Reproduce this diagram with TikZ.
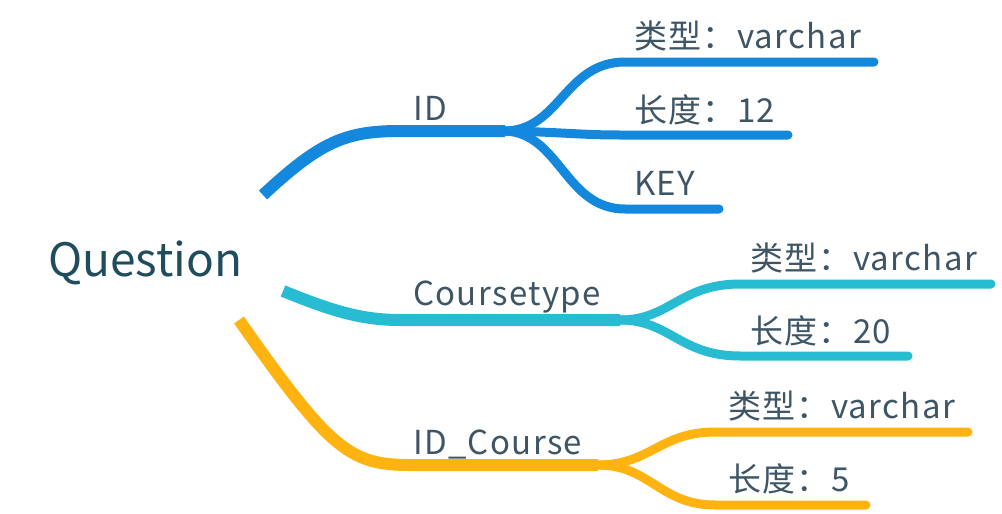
\documentclass[tikz,border=0pt]{standalone}
\usepackage{fontspec}
\setmainfont{Noto Sans CJK SC}
\newfontfamily\lblfont{Noto Sans CJK SC}[LetterSpace=4]
\definecolor{textgray}{HTML}{3E5566}
\definecolor{rootteal}{HTML}{1F4D5E}
\definecolor{idblue}{HTML}{1388DD}
\definecolor{typecyan}{HTML}{27BCD2}
\definecolor{courseyellow}{HTML}{FFB310}
\tikzset{
	trunk/.style={line width=12pt, line cap=butt},
	twig/.style={line width=9pt, line cap=round},
	lbl/.style={anchor=base west, inner sep=0pt, text=textgray, font=\lblfont\fontsize{33}{33}\selectfont}
}
\begin{document}
\begin{tikzpicture}[x=1pt, y=-1pt]
	\useasboundingbox (0,0) rectangle (1002,514);
	% Wurzel
	\node[
		anchor=base west,
		inner sep=0pt,
		text=rootteal,
		font=\fontsize{46}{46}\selectfont
	] (question) at (48,276) {Question};
	% Knoten
	\node[lbl] (id) at (413,120) {ID};
	\node[lbl] (coursetype) at (413,305) {Coursetype};
	\node[lbl] (idcourse) at (413,454) {ID\_Course};
	\node[lbl] (idtype) at (634,48) {类型：varchar};
	\node[lbl] (idlen) at (634,122) {长度：12};
	\node[lbl] (idkey) at (634,195) {KEY};
	\node[lbl] (cttype) at (750,270) {类型：varchar};
	\node[lbl] (ctlen) at (750,343) {长度：20};
	\node[lbl] (ictype) at (728,418) {类型：varchar};
	\node[lbl] (iclen) at (728,491) {长度：5};
	% Ansatzpunkte
	\coordinate (rootb) at (263,195);
	\coordinate (rootc) at (283,291);
	\coordinate (rooty) at (239,320);
	\coordinate (idend) at (505,131);
	\coordinate (ctend) at (620,320);
	\coordinate (icend) at (598,465);
	% Enden
	\coordinate (idtypeend) at (874,62);
	\coordinate (idlenend) at (788,135);
	\coordinate (idkeyend) at (719,209);
	\coordinate (cttypeend) at (991,284);
	\coordinate (ctlenend) at (908,356);
	\coordinate (ictypeend) at (968,432);
	\coordinate (iclenend) at (866,505);
	% Zweig ID
	\draw[
		trunk,
		idblue
	] (rootb) .. controls (320,142) and (345,131) .. (400,131) -- (idend);
	\draw[
		twig,
		idblue
	] (idend) .. controls (560,130) and (565,62) .. (625,62) -- (idtypeend);
	\draw[
		twig,
		idblue
	] (idend) .. controls (560,132) and (580,135) .. (620,135) -- (idlenend);
	\draw[
		twig,
		idblue
	] (idend) .. controls (560,133) and (565,209) .. (625,209) -- (idkeyend);
	% Zweig Coursetype
	\draw[
		trunk,
		typecyan
	] (rootc) .. controls (330,310) and (360,320) .. (400,320) -- (ctend);
	\draw[
		twig,
		typecyan
	] (ctend) .. controls (670,320) and (680,284) .. (740,284) -- (cttypeend);
	\draw[
		twig,
		typecyan
	] (ctend) .. controls (670,320) and (680,356) .. (740,356) -- (ctlenend);
	% Zweig ID_Course
	\draw[
		trunk,
		courseyellow
	] (rooty) .. controls (330,450) and (350,465) .. (410,465) -- (icend);
	\draw[
		twig,
		courseyellow
	] (icend) .. controls (650,465) and (660,432) .. (715,432) -- (ictypeend);
	\draw[
		twig,
		courseyellow
	] (icend) .. controls (650,465) and (660,505) .. (715,505) -- (iclenend);
\end{tikzpicture}
\end{document}
